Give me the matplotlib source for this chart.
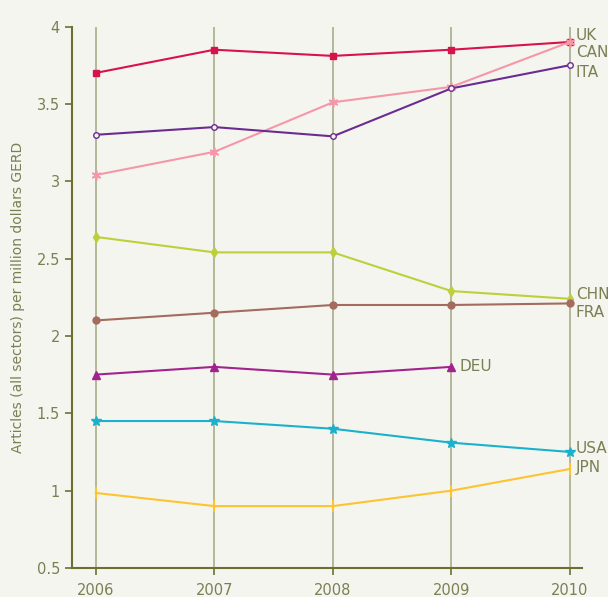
import matplotlib
matplotlib.use("Agg")
import matplotlib.pyplot as plt

years = [2006, 2007, 2008, 2009, 2010]
uk = [3.70, 3.85, 3.81, 3.85, 3.90]
can = [3.04, 3.19, 3.51, 3.61, 3.90]
ita = [3.30, 3.35, 3.29, 3.60, 3.75]
chn = [2.64, 2.54, 2.54, 2.29, 2.24]
fra = [2.10, 2.15, 2.20, 2.20, 2.21]
deu_years = [2006, 2007, 2008, 2009]
deu = [1.75, 1.80, 1.75, 1.80]
usa = [1.45, 1.45, 1.40, 1.31, 1.25]
jpn = [0.985, 0.90, 0.90, 1.00, 1.14]
yticks = [0.5, 1, 1.5, 2, 2.5, 3, 3.5, 4]
ytick_labels = ["0.5", "1", "1.5", "2", "2.5", "3", "3.5", "4"]

bg = "#f5f5f0"
txt = "#7b7f52"
spine = "#6b7030"
grid = "#a9ad88"

fig = plt.figure(figsize=(6.08, 5.97), dpi=100, facecolor=bg)
ax = fig.add_axes([0.118, 0.0486, 0.839, 0.907])
ax.set_facecolor(bg)

for y in years:
    ax.axvline(y, color=grid, lw=1.2, zorder=1)

lw = 1.5
ax.plot(years, uk, color="#d8124a", marker="s", ms=5, lw=lw, zorder=3)
ax.plot(years, can, color="#f497a8", marker=(6, 2, 0), ms=7, mew=1.2, lw=lw, zorder=3)
ax.plot(years, ita, color="#6b2c91", marker="o", ms=4, mfc=bg, mew=1, lw=lw, zorder=3)
ax.plot(years, chn, color="#bdd03c", marker="d", ms=5, lw=lw, zorder=3)
ax.plot(years, fra, color="#a56b5e", marker="o", ms=5, lw=lw, zorder=3)
ax.plot(deu_years, deu, color="#a3238e", marker="^", ms=6, lw=lw, zorder=3)
ax.plot(years, usa, color="#1ab1cc", marker="*", ms=7, lw=lw, zorder=3)
ax.plot(years, jpn, color="#fdc331", marker="|", ms=8, mew=1.5, lw=lw, zorder=3)

fs = 10.5
lab = dict(color=txt, fontsize=11, va="center", ha="left")
ax.text(2010.05, 3.94, "UK", **lab)
ax.text(2010.05, 3.83, "CAN", **lab)
ax.text(2010.05, 3.70, "ITA", **lab)
ax.text(2010.05, 2.27, "CHN", **lab)
ax.text(2010.05, 2.15, "FRA", **lab)
ax.text(2009.07, 1.80, "DEU", **lab)
ax.text(2010.05, 1.27, "USA", **lab)
ax.text(2010.05, 1.15, "JPN", **lab)

ax.set_xlim(2005.797, 2010.101)
ax.set_ylim(0.5, 4)
ax.set_xticks(years)
ax.set_xticklabels([str(y) for y in years])
ax.set_yticks(yticks)
ax.set_yticklabels(ytick_labels)
ax.tick_params(colors=spine, labelcolor=txt, labelsize=fs, length=5, width=1.2)
ax.tick_params(axis="x", pad=6)
for s in ["top", "right"]:
    ax.spines[s].set_visible(False)
for s in ["left", "bottom"]:
    ax.spines[s].set_color(spine)
    ax.spines[s].set_linewidth(1.5)
ax.set_ylabel("Articles (all sectors) per million dollars GERD", color=txt, fontsize=10, labelpad=8)

fig.savefig("out.png", dpi=100, facecolor=bg)
